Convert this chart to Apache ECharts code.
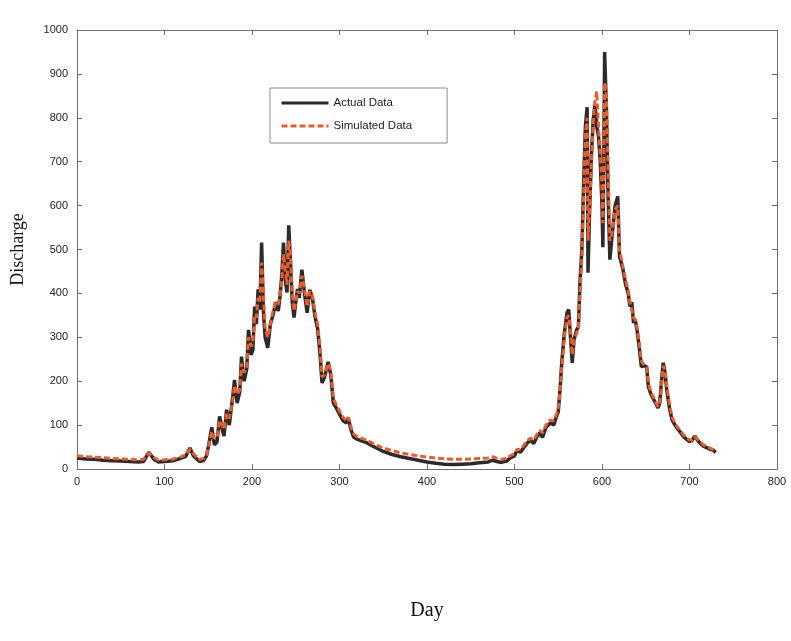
<!DOCTYPE html>
<html>
<head>
<meta charset="utf-8">
<script src="https://cdn.jsdelivr.net/npm/echarts@6/dist/echarts.min.js"></script>
<style>
  html, body { margin: 0; padding: 0; background: #fff; }
  #chart { width: 791px; height: 641px; }
</style>
</head>
<body>
<div id="chart"></div>
<script>
// day of record (shared by both series)
const days = [0,10,20,30,40,50,60,70,76,82,88,93,100,110,118,124,129,133,140,145,148,151,154,157,160,163,166,168,171,174,178,180,183,186,188,191,194,196,199,201,203,205,207,209,211,213,215,218,221,224,227,230,232,234,236,238,240,242,244,246,248,250,252,254,257,260,263,266,269,272,275,278,280,283,287,290,293,296,300,304,308,310,313,316,320,325,331,340,350,360,370,380,390,400,410,420,430,440,450,460,470,475,480,485,491,495,500,503,507,511,515,518,522,526,529,532,536,541,545,548,550,552,554,557,560,562,564,566,568,571,573,575,577,579,581,583,584,586,588,590,592,594,596,598,600,601,602,603,605,607,609,611,613,615,618,620,622,624,627,630,632,634,636,638,640,643,645,648,651,653,656,660,664,666,668,670,672,674,677,680,684,689,694,700,703,706,709,712,716,720,724,727,730];

// observed discharge
const actualFlow = [25,23,22,20,19,18,17,16,17,38,22,16,17,19,24,28,48,30,17,20,30,60,95,55,62,120,90,75,135,100,165,203,150,175,256,200,228,317,260,272,370,330,409,363,516,360,300,276,330,350,380,360,393,440,516,430,402,555,470,380,345,380,410,390,454,400,356,408,390,347,320,256,196,210,244,215,150,140,125,110,105,116,90,73,68,64,60,50,40,33,28,24,20,16,13,11,10,11,12,14,16,20,17,15,18,25,30,43,38,50,60,66,58,75,82,72,95,105,100,120,130,180,242,310,356,363,300,242,294,317,324,432,500,650,780,824,447,600,720,797,830,780,758,700,600,505,700,950,820,620,477,520,560,600,621,484,470,454,420,400,370,380,333,340,317,270,233,235,233,187,170,155,139,150,200,242,220,180,140,112,98,85,72,62,65,75,66,59,52,48,45,43,38];

// model output
const simulatedFlow = [30,28,27,26,24,23,22,21,22,36,26,20,21,23,27,32,45,35,22,24,32,58,85,70,70,110,100,90,125,115,155,190,170,180,240,220,230,300,280,285,350,345,390,380,470,400,320,300,330,360,380,375,395,430,490,450,420,520,490,400,360,380,405,400,440,410,370,405,395,355,330,270,210,215,240,225,160,148,132,118,110,118,96,80,74,70,66,56,48,42,37,33,30,27,25,23,22,22,23,24,25,28,24,22,24,30,35,45,44,55,65,70,66,80,88,82,100,112,110,125,140,175,230,300,345,350,310,260,290,310,320,410,480,620,760,800,520,600,700,790,840,860,780,720,640,560,680,880,860,680,520,530,560,590,600,500,480,460,430,405,380,378,345,340,322,280,245,238,232,195,175,158,142,148,190,235,225,190,150,118,102,88,76,66,66,74,68,62,55,50,47,44,40];

const xTicks = { min: 0, max: 800, interval: 100 };
const yTicks = { min: 0, max: 1000, interval: 100 };

const chart = echarts.init(document.getElementById('chart'));

const frameLine = { show: true, onZero: false, lineStyle: { color: '#6e6e6e', width: 1 } };
const tickIn = { show: true, inside: true, length: 5, lineStyle: { color: '#6e6e6e' } };
const labelFont = { color: '#222', fontFamily: 'Liberation Sans, Arial, sans-serif', fontSize: 11, formatter: v => String(v) };

chart.setOption({
  animation: false,
  backgroundColor: '#fff',
  grid: { left: 77, right: 14, top: 30, bottom: 172 },
  legend: {
    left: 270, top: 88, orient: 'vertical',
    backgroundColor: '#fff',
    borderColor: '#8a8a8a', borderWidth: 1,
    padding: [9, 35, 11, 10],
    itemWidth: 47, itemHeight: 14, itemGap: 11,
    itemStyle: { opacity: 0 },
    lineStyle: { width: 3 },
    textStyle: { color: '#222', fontFamily: 'Liberation Sans, Arial, sans-serif', fontSize: 11.5 },
    data: ['Actual Data', 'Simulated Data']
  },
  xAxis: [
    {
      type: 'value', position: 'bottom', ...xTicks,
      axisLine: frameLine, axisTick: tickIn, splitLine: { show: false },
      axisLabel: { ...labelFont, margin: 7 },
      name: 'Day', nameLocation: 'middle', nameGap: 132,
      nameTextStyle: { fontFamily: 'Liberation Serif, DejaVu Serif, serif', fontSize: 20, color: '#111' }
    },
    {
      type: 'value', position: 'top', ...xTicks,
      axisLine: frameLine, axisTick: tickIn, splitLine: { show: false },
      axisLabel: { show: false }
    }
  ],
  yAxis: [
    {
      type: 'value', position: 'left', ...yTicks,
      axisLine: frameLine, axisTick: tickIn, splitLine: { show: false },
      axisLabel: { ...labelFont, margin: 9 },
      name: 'Discharge', nameLocation: 'middle', nameGap: 50, nameRotate: 90,
      nameTextStyle: { fontFamily: 'Liberation Serif, DejaVu Serif, serif', fontSize: 18, color: '#111' }
    },
    {
      type: 'value', position: 'right', ...yTicks,
      axisLine: frameLine, axisTick: tickIn, splitLine: { show: false },
      axisLabel: { show: false }
    }
  ],
  series: [
    {
      name: 'Actual Data', type: 'line',
      data: days.map((d, i) => [d, actualFlow[i]]),
      showSymbol: false, symbol: 'none',
      lineStyle: { color: '#2b2b2b', width: 3.5 },
      itemStyle: { color: '#2b2b2b' },
      z: 2
    },
    {
      name: 'Simulated Data', type: 'line',
      data: days.map((d, i) => [d, simulatedFlow[i]]),
      showSymbol: false, symbol: 'none',
      lineStyle: { color: '#ec5b2c', width: 3, type: [6, 3] },
      itemStyle: { color: '#ec5b2c' },
      z: 3
    }
  ]
});
</script>
</body>
</html>
